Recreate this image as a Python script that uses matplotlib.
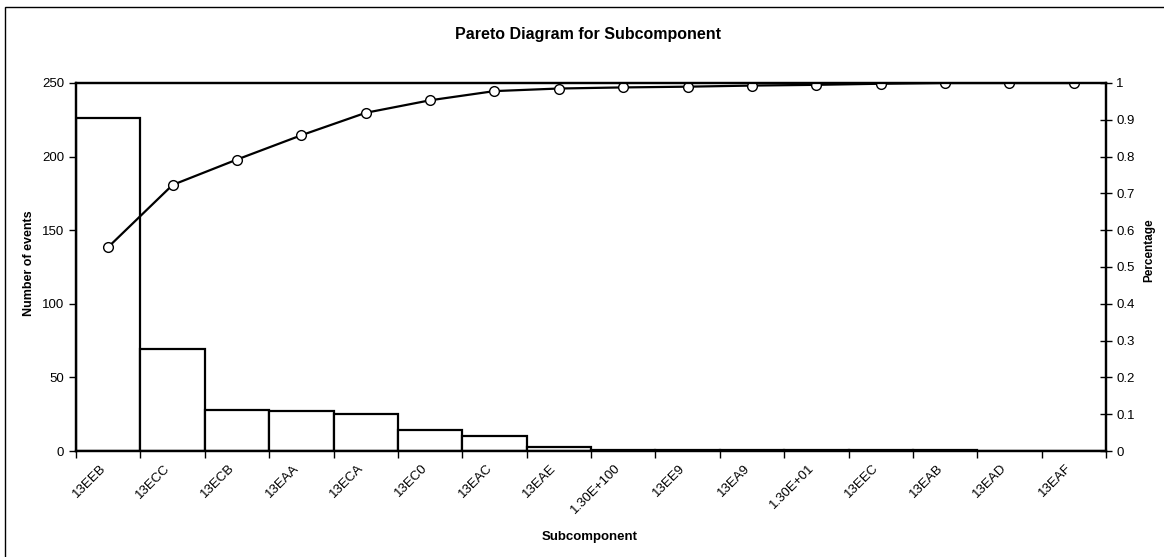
import matplotlib
matplotlib.use('Agg')
import matplotlib.pyplot as plt
from matplotlib.patches import Rectangle

plt.rcParams['font.family'] = ['Liberation Sans', 'DejaVu Sans']

# data
subcomponents = ['13EEB', '13ECC', '13ECB', '13EAA', '13ECA', '13EC0', '13EAC', '13EAE',
                 '1.30E+100', '13EE9', '13EA9', '1.30E+01', '13EEC', '13EAB', '13EAD', '13EAF']
events = [226, 69, 28, 27, 25, 14, 10, 3, 1, 1, 1, 1, 1, 1, 0, 0]
cum_pct = [0.554, 0.723, 0.792, 0.858, 0.919, 0.953, 0.978, 0.985,
           0.988, 0.990, 0.993, 0.995, 0.998, 1.0, 1.0, 1.0]

W, H = 1164, 557
fig = plt.figure(figsize=(W / 100, H / 100), dpi=100)
fig.patch.set_facecolor('white')

# chart area border (only top/left visible in the reference)
fig.patches.append(Rectangle((5 / W, -0.1), 1.2, 1 - 7 / H + 0.1, transform=fig.transFigure,
                             fill=False, edgecolor='black', linewidth=1.0))

left, right, top, bottom = 76, 1106, 83, 451
ax = fig.add_axes([left / W, 1 - bottom / H, (right - left) / W, (bottom - top) / H])
x = list(range(len(subcomponents)))
ax.bar(x, events, width=1.0, color='white', edgecolor='black', linewidth=1.6)
ax.set_xlim(-0.5, len(subcomponents) - 0.5)
ax.set_ylim(0, 250)
ax.set_yticks([0, 50, 100, 150, 200, 250])
ax.set_xticks([i - 0.5 for i in range(len(subcomponents) + 1)])
ax.set_xticklabels([])
ax.set_xticks(x, minor=True)
ax.set_xticklabels(subcomponents, minor=True, rotation=45, ha='right', va='top', fontsize=9.5)
ax.tick_params(axis='x', which='minor', length=0, pad=8)
ax.tick_params(axis='x', which='major', length=5, width=1, direction='out')
ax.tick_params(axis='y', length=5, width=1, direction='out', labelsize=9.5)
for s in ax.spines.values():
    s.set_linewidth(1.6)

ax2 = ax.twinx()
ax2.plot(x, cum_pct, color='black', linewidth=1.6, marker='o', markersize=7,
         markerfacecolor='white', markeredgecolor='black', markeredgewidth=1.0)
ax2.set_ylim(0, 1)
ax2.set_yticks([i / 10 for i in range(11)])
ax2.set_yticklabels(['0'] + ['%.1f' % (i / 10) for i in range(1, 10)] + ['1'])
ax2.tick_params(axis='y', length=8, width=1, direction='inout', labelsize=9.5)
for s in ax2.spines.values():
    s.set_linewidth(1.6)

fig.text(588 / W, 1 - 34 / H, 'Pareto Diagram for Subcomponent', ha='center', va='center',
         fontsize=11.5, fontweight='bold')
fig.text(29 / W, 1 - 263 / H, 'Number of events', rotation=90, ha='center', va='center',
         fontsize=9, fontweight='bold')
fig.text(1149 / W, 1 - 250 / H, 'Percentage', rotation=90, ha='center', va='center',
         fontsize=8.5, fontweight='bold')
fig.text(590 / W, 1 - 537 / H, 'Subcomponent', ha='center', va='center',
         fontsize=9.5, fontweight='bold')

fig.savefig('out.png', dpi=100)
